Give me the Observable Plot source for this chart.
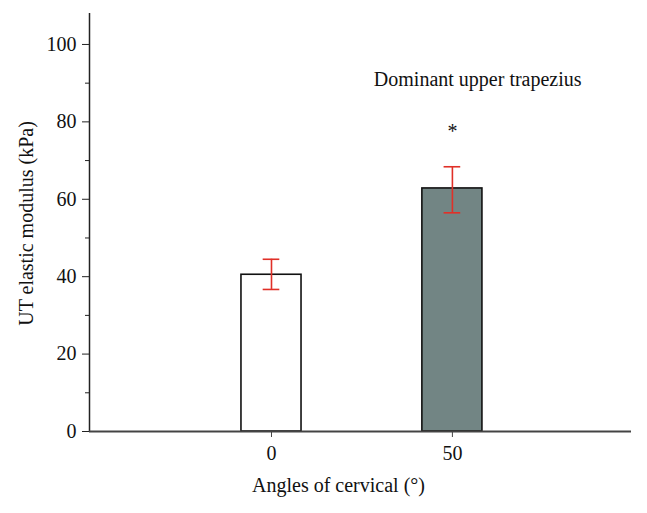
<!DOCTYPE html>
<html>
<head>
<meta charset="utf-8">
<script src="https://cdn.jsdelivr.net/npm/d3@7"></script>
<script src="https://cdn.jsdelivr.net/npm/@observablehq/plot@0.6"></script>
<style>
  html, body { margin: 0; padding: 0; background: #fff; }
  #chart svg { display: block; }
</style>
</head>
<body>
<div id="chart"></div>
<script>
const angles = [0, 50];
const means = [40.5, 62.8];
const errLow = [36.7, 56.5];
const errHigh = [44.5, 68.4];
const fills = ["#ffffff", "#728584"];
const yTicks = [0, 20, 40, 60, 80, 100];
const yMinorTicks = [10, 30, 50, 70, 90];
const xTicks = [0, 50];
const title = "Dominant upper trapezius";
const sigMark = "*";
const yLabel = "UT elastic modulus (kPa)";
const xLabel = "Angles of cervical (°)";

const data = angles.map((a, i) => ({angle: a, mean: means[i], lo: errLow[i], hi: errHigh[i], fill: fills[i]}));
const halfW = 8.3;
const capHalf = 2.3;
const font = "'Liberation Serif', 'DejaVu Serif', serif";
const fs = 20;

const chart = Plot.plot({
  width: 647,
  height: 513,
  marginLeft: 89,
  marginRight: 16,
  marginTop: 13,
  marginBottom: 82,
  style: {fontFamily: font, fontSize: fs + "px", color: "#111", background: "#fff"},
  x: {domain: [-50.3, 99.5]},
  y: {domain: [0, 108]},
  marks: [
    Plot.rectY(data, {x1: d => d.angle - halfW, x2: d => d.angle + halfW, y1: 0, y2: "mean", fill: "fill", stroke: "#111", strokeWidth: 1.6}),
    Plot.ruleX(data, {x: "angle", y1: "lo", y2: "hi", stroke: "#e03028", strokeWidth: 1.6}),
    Plot.ruleY(data, {y: "lo", x1: d => d.angle - capHalf, x2: d => d.angle + capHalf, stroke: "#e03028", strokeWidth: 1.6}),
    Plot.ruleY(data, {y: "hi", x1: d => d.angle - capHalf, x2: d => d.angle + capHalf, stroke: "#e03028", strokeWidth: 1.6}),
    Plot.ruleX([-50.3], {stroke: "#222", strokeWidth: 1.5}),
    Plot.ruleY([0], {stroke: "#444", strokeWidth: 1.8}),
    Plot.axisY({ticks: yTicks, tickSize: 7, tickPadding: 6, label: null, fontSize: fs, stroke: "#222"}),
    Plot.axisY({ticks: yMinorTicks, tickSize: 4, tickFormat: () => "", label: null, stroke: "#222"}),
    Plot.axisX({ticks: xTicks, tickSize: 6, tickPadding: 8, label: null, fontSize: fs, stroke: "#444"}),
    Plot.text([title], {x: 57, y: 90.8, text: d => d, fontSize: fs, fill: "#111"}),
    Plot.text([sigMark], {x: 50, y: 77.5, text: d => d, fontSize: fs, fill: "#111"}),
    Plot.text([yLabel], {frameAnchor: "left", textAnchor: "middle", text: d => d, rotate: -90, dx: -63, dy: 1, fontSize: fs, fill: "#111"}),
    Plot.text([xLabel], {frameAnchor: "bottom", textAnchor: "middle", text: d => d, dx: -22, dy: 60, fontSize: fs, fill: "#111"})
  ]
});
document.getElementById("chart").appendChild(chart);
</script>
</body>
</html>
